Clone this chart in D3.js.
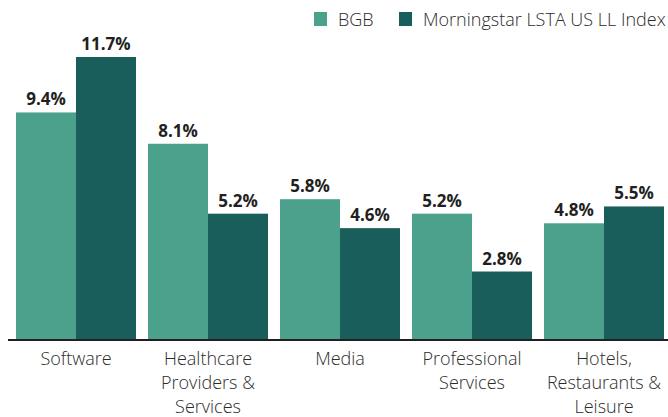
<!DOCTYPE html>
<html>
<head>
<meta charset="utf-8">
<script src="https://cdn.jsdelivr.net/npm/d3@7"></script>
<style>
  body { margin: 0; background: #fff; }
  svg { font-family: "Open Sans", "Noto Sans", sans-serif; }
</style>
</head>
<body>
<svg id="chart" width="668" height="417"></svg>
<script>
const categories = [
  ['Software'],
  ['Healthcare', 'Providers &', 'Services'],
  ['Media'],
  ['Professional', 'Services'],
  ['Hotels,', 'Restaurants &', 'Leisure']
];
const seriesNames = ['BGB', 'Morningstar LSTA US LL Index'];
const bgbValues = [9.4, 8.1, 5.8, 5.2, 4.8];
const indexValues = [11.7, 5.2, 4.6, 2.8, 5.5];
const colors = ['#4ba18b', '#1a5e5b'];

const svg = d3.select('#chart');
const baseY = 339;
const keys = categories.map((c, i) => 'c' + i);

const x0 = d3.scaleBand().domain(keys).range([16, 664]).paddingInner(12 / 132).paddingOuter(0);
const x1 = d3.scaleBand().domain(seriesNames).range([0, x0.bandwidth()]);
const y = d3.scaleLinear().domain([0, 11.7]).range([baseY, 57]);

const rows = keys.map((k, i) => ({ key: k, values: [bgbValues[i], indexValues[i]] }));

const groups = svg.append('g').selectAll('g')
  .data(rows).join('g')
  .attr('transform', d => `translate(${x0(d.key)},0)`);

groups.selectAll('rect')
  .data(d => d.values.map((v, j) => ({ name: seriesNames[j], v, j })))
  .join('rect')
  .attr('x', d => x1(d.name))
  .attr('y', d => y(d.v))
  .attr('width', x1.bandwidth())
  .attr('height', d => baseY - y(d.v))
  .attr('fill', d => colors[d.j]);

groups.selectAll('text.val')
  .data(d => d.values.map((v, j) => ({ name: seriesNames[j], v, j })))
  .join('text')
  .attr('class', 'val')
  .attr('x', d => x1(d.name) + x1.bandwidth() / 2)
  .attr('y', d => y(d.v) - 7)
  .attr('text-anchor', 'middle')
  .attr('font-size', 17)
  .attr('font-weight', 700)
  .attr('fill', '#231f20')
  .text(d => d.v.toFixed(1) + '%');

// baseline
svg.append('line')
  .attr('x1', 8).attr('x2', 668)
  .attr('y1', baseY + 1).attr('y2', baseY + 1)
  .attr('stroke', '#231f20').attr('stroke-width', 2);

// category labels
groups.append('text')
  .attr('text-anchor', 'middle')
  .attr('font-size', 18)
  .attr('font-weight', 300)
  .attr('fill', '#2b2b2b')
  .selectAll('tspan')
  .data((d, i) => categories[i])
  .join('tspan')
  .attr('x', x0.bandwidth() / 2)
  .attr('y', (d, i) => 365 + i * 24)
  .text(d => d);

// legend
const legendX = [314, 399];
const legend = svg.append('g').selectAll('g')
  .data(seriesNames).join('g')
  .attr('transform', (d, i) => `translate(${legendX[i]},12)`);
legend.append('rect')
  .attr('width', 13).attr('height', 14)
  .attr('fill', (d, i) => colors[i]);
legend.append('text')
  .attr('x', 24).attr('y', 14)
  .attr('font-size', 18)
  .attr('font-weight', 300)
  .attr('fill', '#2b2b2b')
  .text(d => d);
</script>
</body>
</html>
